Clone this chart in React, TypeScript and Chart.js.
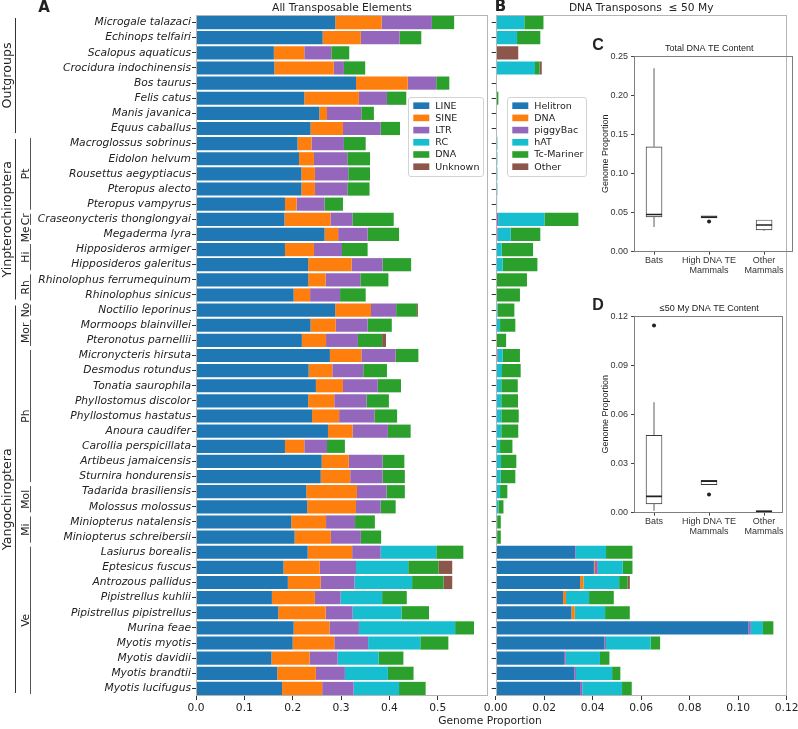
import React, { useEffect, useRef } from "react";
import { Chart, registerables } from "chart.js";
Chart.register(...registerables);

// ---------------- data ----------------
const species = ["Microgale talazaci","Echinops telfairi","Scalopus aquaticus","Crocidura indochinensis","Bos taurus","Felis catus","Manis javanica","Equus caballus","Macroglossus sobrinus","Eidolon helvum","Rousettus aegyptiacus","Pteropus alecto","Pteropus vampyrus","Craseonycteris thonglongyai","Megaderma lyra","Hipposideros armiger","Hipposideros galeritus","Rhinolophus ferrumequinum","Rhinolophus sinicus","Noctilio leporinus","Mormoops blainvillei","Pteronotus parnellii","Micronycteris hirsuta","Desmodus rotundus","Tonatia saurophila","Phyllostomus discolor","Phyllostomus hastatus","Anoura caudifer","Carollia perspicillata","Artibeus jamaicensis","Sturnira hondurensis","Tadarida brasiliensis","Molossus molossus","Miniopterus natalensis","Miniopterus schreibersii","Lasiurus borealis","Eptesicus fuscus","Antrozous pallidus","Pipistrellus kuhlii","Pipistrellus pipistrellus","Murina feae","Myotis myotis","Myotis davidii","Myotis brandtii","Myotis lucifugus"];

// Panel A: all transposable elements
const teClasses = ["LINE", "SINE", "LTR", "RC", "DNA", "Unknown"];
const lineVals = [.288,.262,.161,.162,.331,.224,.255,.237,.210,.213,.218,.218,.184,.183,.266,.184,.232,.232,.202,.288,.237,.219,.277,.233,.248,.232,.240,.273,.184,.260,.258,.228,.230,.197,.204,.231,.181,.190,.157,.170,.202,.200,.156,.168,.178];
const sineVals = [.096,.079,.063,.123,.107,.113,.016,.067,.029,.031,.028,.028,.024,.095,.028,.060,.090,.036,.034,.074,.052,.050,.065,.049,.056,.054,.056,.051,.040,.056,.061,.105,.101,.072,.075,.092,.075,.068,.089,.098,.074,.086,.079,.080,.083];
const ltrVals = [.104,.080,.056,.021,.059,.058,.071,.078,.067,.069,.069,.067,.058,.046,.061,.058,.064,.072,.062,.052,.066,.066,.071,.064,.072,.067,.073,.073,.047,.070,.067,.061,.051,.060,.062,.059,.075,.070,.053,.056,.061,.070,.058,.060,.065];
const rcVals = [0,0,0,0,0,0,0,0,0,0,0,0,0,0,0,0,0,0,0,0,0,0,0,0,0,0,0,0,0,0,0,0,0,0,0,.115,.108,.119,.086,.101,.199,.108,.085,.089,.094];
const dnaVals = [.046,.045,.037,.044,.027,.040,.026,.040,.045,.047,.045,.046,.038,.085,.065,.053,.059,.058,.053,.043,.050,.050,.047,.049,.048,.046,.047,.047,.037,.045,.046,.038,.031,.041,.042,.056,.063,.065,.051,.057,.039,.058,.051,.053,.055];
const unknownVals = [0,0,0,0,0,0,0,0,0,0,0,0,0,0,0,0,0,0,0,.002,0,.008,0,0,0,0,0,0,0,0,0,0,0,0,0,0,.028,.018,0,0,0,0,0,0,0];

// Panel B: DNA transposons <= 50 My
const dnaFamilies = ["Helitron", "DNA", "piggyBac", "hAT", "Tc-Mariner", "Other"];
const helitronVals = [0,0,0,0,0,0,0,0,0,0,0,0,0,0,0,0,0,0,0,0,0,0,0,0,0,0,0,0,0,0,0,0,0,0,0,.0327,.0405,.0348,.0278,.0312,.1042,.0448,.0282,.0324,.0348];
const dnaFamVals = [0,0,0,0,0,0,0,0,0,0,0,0,0,0,0,0,0,0,0,0,0,0,0,0,0,0,0,0,0,0,0,0,0,0,0,0,.0004,.0014,.0012,.0014,0,0,0,0,0];
const piggyBacVals = [0,0,0,0,0,0,0,0,0,0,0,0,0,.0010,.0008,0,0,0,0,0,0,0,.0008,0,0,0,0,0,0,0,0,0,0,0,0,.0003,.0012,0,0,0,.0010,.0007,.0007,.0007,.0009];
const hatVals = [.0118,.0088,0,.0162,0,0,0,0,.0007,.0007,.0007,.0007,.0006,.0191,.0054,.0025,.0029,.0005,.0005,.0008,.0018,.0005,.0021,.0026,.0023,.0023,.0023,.0023,.0018,.0022,.0021,.0018,.0011,.0006,.0006,.0125,.0103,.0147,.0095,.0125,.0050,.0184,.0141,.0149,.0164];
const tcMarinerVals = [.0079,.0096,0,.0019,.0004,.0011,0,0,0,0,0,0,0,.0140,.0122,.0129,.0143,.0124,.0095,.0069,.0063,.0038,.0071,.0077,.0068,.0069,.0072,.0070,.0051,.0063,.0060,.0030,.0021,.0015,.0015,.0109,.0040,.0035,.0102,.0102,.0043,.0039,.0039,.0034,.0040];
const otherVals = [0,0,.0093,.0009,0,0,0,0,0,0,0,0,0,0,0,0,0,0,0,0,0,0,0,0,0,0,0,0,0,0,0,0,0,0,0,0,0,.0009,0,0,0,0,0,0,0];

const palette = ["#1f77b4", "#ff7f0e", "#9467bd", "#17becf", "#2ca02c", "#8c564b"];

const aTicks = [0, 0.1, 0.2, 0.3, 0.4, 0.5];
const bTicks = [0, 0.02, 0.04, 0.06, 0.08, 0.1, 0.12];

// groups (row index ranges)
const groupNames = ["Outgroups", "Yinpterochiroptera", "Yangochiroptera"];
const groupStart = [0, 8, 19];
const groupEnd = [7, 18, 44];
const subNames = ["Pt", "Cr", "Me", "Hi", "Rh", "No", "Mor", "Ph", "Mol", "Mi", "Ve"];
const subStart = [8, 13, 14, 15, 17, 19, 20, 22, 31, 33, 35];
const subEnd = [12, 13, 14, 16, 18, 19, 21, 30, 32, 34, 44];

// Box plots
const boxCats = ["Bats", ["High DNA TE", "Mammals"], ["Other", "Mammals"]];
const cLow = [0.031, 0.0425, 0.026];
const cQ1 = [0.044, 0.0425, 0.0273];
const cMed = [0.047, 0.0437, 0.0336];
const cQ3 = [0.134, 0.0452, 0.040];
const cHigh = [0.235, 0.0452, 0.040];
const cOutX = [2];
const cOutY = [0.038];
const cYTicks = [0, 0.05, 0.1, 0.15, 0.2, 0.25];

const dLow = [0.0008, 0.0168, 0.0002];
const dQ1 = [0.005, 0.0168, 0.0002];
const dMed = [0.0096, 0.019, 0.0005];
const dQ3 = [0.047, 0.0195, 0.0008];
const dHigh = [0.0674, 0.0195, 0.0008];
const dOutX = [1, 2];
const dOutY = [0.1145, 0.0108];
const dYTicks = [0, 0.03, 0.06, 0.09, 0.12];

// ---------------- helpers ----------------
const DV = '"DejaVu Sans"';
const LS = '"Liberation Sans", Arial, sans-serif';
const TXT = "#222";

function drawFrame(ctx: CanvasRenderingContext2D, a: any, color: string) {
  ctx.save();
  ctx.strokeStyle = color;
  ctx.lineWidth = 1;
  ctx.strokeRect(Math.round(a.left) + 0.5, Math.round(a.top) + 0.5, Math.round(a.right - a.left) - 1, Math.round(a.bottom - a.top) - 1);
  ctx.restore();
}

function roundRect(ctx: CanvasRenderingContext2D, x: number, y: number, w: number, h: number, r: number) {
  ctx.beginPath();
  ctx.moveTo(x + r, y);
  ctx.lineTo(x + w - r, y);
  ctx.quadraticCurveTo(x + w, y, x + w, y + r);
  ctx.lineTo(x + w, y + h - r);
  ctx.quadraticCurveTo(x + w, y + h, x + w - r, y + h);
  ctx.lineTo(x + r, y + h);
  ctx.quadraticCurveTo(x, y + h, x, y + h - r);
  ctx.lineTo(x, y + r);
  ctx.quadraticCurveTo(x, y, x + r, y);
  ctx.closePath();
}

function drawLegend(ctx: CanvasRenderingContext2D, x: number, y: number, w: number, h: number, labels: string[]) {
  ctx.save();
  roundRect(ctx, x + 0.5, y + 0.5, w, h, 2.5);
  ctx.fillStyle = "rgba(255,255,255,0.9)";
  ctx.fill();
  ctx.strokeStyle = "#d3d3d3";
  ctx.lineWidth = 1;
  ctx.stroke();
  ctx.font = `9.5px ${DV}`;
  ctx.textBaseline = "middle";
  ctx.textAlign = "left";
  labels.forEach((lab, i) => {
    const yc = y + 8.7 + i * 12.2;
    ctx.fillStyle = palette[i];
    ctx.fillRect(x + 5.3, yc - 3.3, 16, 6.6);
    ctx.fillStyle = TXT;
    ctx.fillText(lab, x + 27.3, yc + 0.5);
  });
  ctx.restore();
}

function vText(ctx: CanvasRenderingContext2D, text: string, x: number, y: number) {
  ctx.save();
  ctx.translate(x, y);
  ctx.rotate(-Math.PI / 2);
  ctx.fillText(text, 0, 0);
  ctx.restore();
}

function barDatasets(series: number[][], labels: string[]) {
  return series.map((d, i) => ({
    label: labels[i],
    data: d,
    backgroundColor: palette[i],
    borderWidth: 0,
    barPercentage: 0.87,
    categoryPercentage: 1,
  }));
}

function stackedOptions(kind: "A" | "B") {
  const isA = kind === "A";
  return {
    indexAxis: "y" as const,
    animation: false as const,
    responsive: false,
    layout: { padding: { left: 0, right: isA ? 4 : 15.3, top: 15, bottom: 0 } },
    plugins: { legend: { display: false }, tooltip: { enabled: false }, title: { display: false } },
    scales: {
      x: {
        type: "linear" as const,
        stacked: true,
        min: 0,
        max: isA ? 0.604 : 0.12,
        afterBuildTicks: (s: any) => { s.ticks = (isA ? aTicks : bTicks).map((v) => ({ value: v })); },
        ticks: {
          callback: (v: any) => Number(v).toFixed(isA ? 1 : 2),
          font: { family: DV, size: 10.7 },
          color: TXT,
          padding: 2,
          maxRotation: 0,
          autoSkip: false,
        },
        grid: { display: true, drawOnChartArea: false, drawTicks: true, tickLength: 4, color: "#333" },
        border: { display: false },
        afterFit: (s: any) => { s.height = 33; },
      },
      y: {
        type: "category" as const,
        stacked: true,
        offset: true,
        ticks: {
          autoSkip: false,
          callback: (v: any) => (isA ? species[Number(v)] : ""),
          font: { family: DV, size: 10.7, style: "italic" as const },
          color: TXT,
          padding: 1,
        },
        grid: { display: true, offset: false, drawOnChartArea: false, drawTicks: true, tickLength: 4, color: "#333" },
        border: { display: false },
        afterFit: (s: any) => { s.width = isA ? 196 : 25.7; },
      },
    },
  };
}

const decoA = {
  id: "decoA",
  afterDraw(chart: any) {
    const ctx: CanvasRenderingContext2D = chart.ctx;
    const a = chart.chartArea;
    const ys = chart.scales.y;
    drawFrame(ctx, a, "#b5b5b5");
    ctx.save();
    ctx.fillStyle = TXT;
    ctx.textAlign = "center";
    ctx.textBaseline = "middle";
    ctx.font = `10.7px ${DV}`;
    ctx.fillText("All Transposable Elements", (a.left + a.right) / 2, 8.5);
    ctx.font = `bold 15px ${DV}`;
    ctx.fillText("A", 44, 8);
    const half = (ys.getPixelForValue(1) - ys.getPixelForValue(0)) / 2;
    // main groups
    ctx.strokeStyle = "#333";
    ctx.lineWidth = 1;
    ctx.textBaseline = "alphabetic";
    ctx.font = `12.6px ${DV}`;
    groupNames.forEach((g, i) => {
      const y0 = ys.getPixelForValue(groupStart[i]) - half + 3;
      const y1 = ys.getPixelForValue(groupEnd[i]) + half - 3;
      ctx.beginPath();
      ctx.moveTo(15.5, y0);
      ctx.lineTo(15.5, y1);
      ctx.stroke();
      vText(ctx, g, 10.5, (y0 + y1) / 2);
    });
    ctx.strokeStyle = "#555";
    ctx.font = `10.7px ${DV}`;
    subNames.forEach((g, i) => {
      const y0 = ys.getPixelForValue(subStart[i]) - half + 2;
      const y1 = ys.getPixelForValue(subEnd[i]) + half - 2;
      ctx.beginPath();
      ctx.moveTo(30.5, y0);
      ctx.lineTo(30.5, y1);
      ctx.stroke();
      vText(ctx, g, 29.3, (y0 + y1) / 2);
    });
    ctx.restore();
    drawLegend(ctx, 408, 97, 75, 79, teClasses);
  },
};

const decoB = {
  id: "decoB",
  afterDraw(chart: any) {
    const ctx: CanvasRenderingContext2D = chart.ctx;
    const a = chart.chartArea;
    drawFrame(ctx, a, "#b5b5b5");
    ctx.save();
    ctx.fillStyle = TXT;
    ctx.textAlign = "center";
    ctx.textBaseline = "middle";
    ctx.font = `10.7px ${DV}`;
    ctx.fillText("DNA Transposons  \u2264 50 My", (a.left + a.right) / 2, 8.5);
    ctx.font = `bold 15px ${DV}`;
    ctx.fillText("B", 30.5, 7);
    ctx.restore();
    drawLegend(ctx, 37, 97, 79, 79, dnaFamilies);
  },
};

function boxConfig(o: {
  low: number[]; q1: number[]; med: number[]; q3: number[]; high: number[];
  outX: number[]; outY: number[]; yMin: number; yMax: number; yTicks: number[];
  xMax: number; padRight: number; xHeight: number; title: string; letter: string;
}) {
  const whisk: any[] = [];
  const meds: any[] = [];
  const boxes: any[] = [];
  o.q1.forEach((_, i) => {
    const x = i + 1;
    whisk.push({ x, y: o.low[i] }, { x, y: o.q1[i] }, { x, y: null }, { x, y: o.q3[i] }, { x, y: o.high[i] }, { x, y: null });
    meds.push({ x: x - 0.145, y: o.med[i] }, { x: x + 0.145, y: o.med[i] }, { x: x + 0.2, y: null });
    boxes.push({ x, y: [o.q1[i], o.q3[i]] });
  });
  const outs = o.outX.map((x, i) => ({ x, y: o.outY[i] }));
  const deco = {
    id: "decoBox",
    afterDraw(chart: any) {
      const ctx: CanvasRenderingContext2D = chart.ctx;
      const a = chart.chartArea;
      drawFrame(ctx, a, "#7f7f7f");
      ctx.save();
      ctx.fillStyle = "#222";
      ctx.textAlign = "center";
      ctx.textBaseline = "middle";
      ctx.font = `9px ${LS}`;
      ctx.fillText(o.title, 123.2, 13);
      vText(ctx, "Genome Proportion", 20, (a.top + a.bottom) / 2);
      ctx.font = `bold 16px ${LS}`;
      ctx.fillText(o.letter, 12, 10);
      ctx.restore();
    },
  };
  return {
    type: "bar" as const,
    data: {
      datasets: [
        { type: "line", label: "whisker", data: whisk, borderColor: "#9a9a9a", borderWidth: 1.6, pointRadius: 0, spanGaps: false, order: 3 },
        { type: "bar", label: "box", data: boxes, backgroundColor: "#ffffff", borderColor: "#3a3a3a", borderWidth: 0.9, borderSkipped: false, barThickness: 16, order: 2 },
        { type: "line", label: "median", data: meds, borderColor: "#222", borderWidth: 1.6, pointRadius: 0, spanGaps: false, order: 1 },
        { type: "scatter", label: "outlier", data: outs, backgroundColor: "#222", borderWidth: 0, pointRadius: 2, order: 0 },
      ],
    },
    options: {
      animation: false as const,
      responsive: false,
      layout: { padding: { left: 0, right: o.padRight, top: 20, bottom: 0 } },
      plugins: { legend: { display: false }, tooltip: { enabled: false } },
      scales: {
        x: {
          type: "linear" as const,
          min: 0.636,
          max: o.xMax,
          offset: false,
          afterBuildTicks: (s: any) => { s.ticks = [1, 2, 3].map((v) => ({ value: v })); },
          ticks: {
            callback: (v: any) => boxCats[Math.round(Number(v)) - 1],
            font: { family: LS, size: 9, lineHeight: 1.12 },
            color: "#333",
            padding: 1,
            maxRotation: 0,
            autoSkip: false,
          },
          grid: { display: true, offset: false, drawOnChartArea: false, drawTicks: true, tickLength: 3, color: "#444" },
          border: { display: false },
          afterFit: (s: any) => { s.height = o.xHeight; },
        },
        y: {
          type: "linear" as const,
          min: o.yMin,
          max: o.yMax,
          afterBuildTicks: (s: any) => { s.ticks = o.yTicks.map((v) => ({ value: v })); },
          ticks: {
            callback: (v: any) => Number(v).toFixed(2),
            font: { family: LS, size: 9 },
            color: "#333",
            padding: 3,
            autoSkip: false,
          },
          grid: { display: true, drawOnChartArea: false, drawTicks: true, tickLength: 3, color: "#444" },
          border: { display: false },
          afterFit: (s: any) => { s.width = 48; },
        },
      },
    },
    plugins: [deco],
  };
}

export default function App() {
  const aRef = useRef<HTMLCanvasElement>(null);
  const bRef = useRef<HTMLCanvasElement>(null);
  const cRef = useRef<HTMLCanvasElement>(null);
  const dRef = useRef<HTMLCanvasElement>(null);

  useEffect(() => {
    const charts: Chart[] = [];
    charts.push(
      new Chart(aRef.current!, {
        type: "bar",
        data: { labels: species, datasets: barDatasets([lineVals, sineVals, ltrVals, rcVals, dnaVals, unknownVals], teClasses) as any },
        options: stackedOptions("A") as any,
        plugins: [decoA],
      })
    );
    charts.push(
      new Chart(bRef.current!, {
        type: "bar",
        data: { labels: species, datasets: barDatasets([helitronVals, dnaFamVals, piggyBacVals, hatVals, tcMarinerVals, otherVals], dnaFamilies) as any },
        options: stackedOptions("B") as any,
        plugins: [decoB],
      })
    );
    charts.push(
      new Chart(cRef.current!, boxConfig({
        low: cLow, q1: cQ1, med: cMed, q3: cQ3, high: cHigh, outX: cOutX, outY: cOutY,
        yMin: -0.0008, yMax: 0.2508, yTicks: cYTicks, xMax: 3.52, padRight: 5.3, xHeight: 34.3,
        title: "Total DNA TE Content", letter: "C",
      }) as any)
    );
    charts.push(
      new Chart(dRef.current!, boxConfig({
        low: dLow, q1: dQ1, med: dMed, q3: dQ3, high: dHigh, outX: dOutX, outY: dOutY,
        yMin: -0.0004, yMax: 0.1203, yTicks: dYTicks, xMax: 3.34, padRight: 15.3, xHeight: 33.3,
        title: "\u226450 My DNA TE Content", letter: "D",
      }) as any)
    );
    return () => charts.forEach((c) => c.destroy());
  }, []);

  return (
    <div style={{ position: "fixed", left: 0, top: 0, width: 798, height: 729, overflow: "hidden", background: "#fff" }}>
      <canvas ref={aRef} width={492} height={729} style={{ position: "absolute", left: 0, top: 0 }} />
      <canvas ref={bRef} width={332} height={729} style={{ position: "absolute", left: 470, top: 0 }} />
      <canvas ref={cRef} width={212} height={250} style={{ position: "absolute", left: 586, top: 36 }} />
      <canvas ref={dRef} width={212} height={250} style={{ position: "absolute", left: 586, top: 296 }} />
      <div style={{ position: "absolute", left: 390, top: 715, width: 200, textAlign: "center", fontFamily: "DejaVu Sans", fontSize: "10.7px", lineHeight: "12px", color: TXT }}>
        Genome Proportion
      </div>
    </div>
  );
}
